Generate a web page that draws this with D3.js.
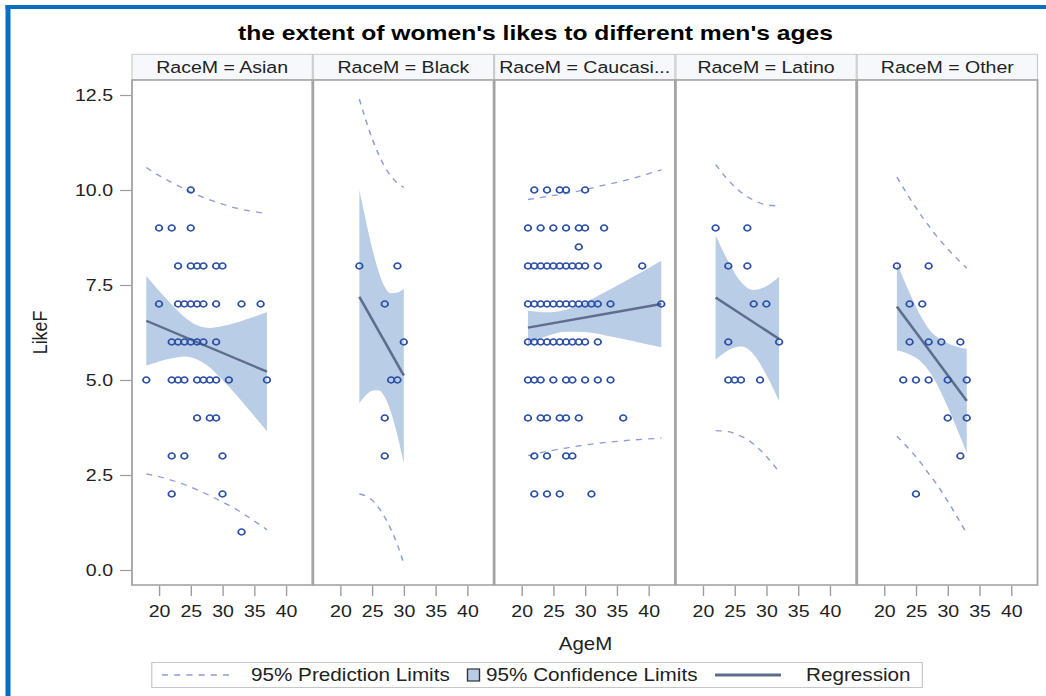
<!DOCTYPE html>
<html>
<head>
<meta charset="utf-8">
<script src="https://cdn.jsdelivr.net/npm/d3@7/dist/d3.min.js"></script>
<style>
  html, body { margin: 0; padding: 0; background: #fff; }
  svg { display: block; font-family: "Liberation Sans", Arial, Helvetica, sans-serif; }
</style>
</head>
<body>
<svg id="chart" width="1046" height="696"></svg>
<script>
// ---------- data ----------
const titleText = "the extent of women's likes to different men's ages";
const raceLabels = ["RaceM = Asian", "RaceM = Black", "RaceM = Caucasi...", "RaceM = Latino", "RaceM = Other"];
const ageTicks = [20, 25, 30, 35, 40];
const likeTicks = [0, 2.5, 5, 7.5, 10, 12.5];
const legendLabels = ["95% Prediction Limits", "95% Confidence Limits", "Regression"];

// observations: [AgeM, LikeF]
const asianPoints = [
  [25,10],
  [20,9],[22,9],[25,9],
  [23,8],[25,8],[26,8],[27,8],[29,8],[30,8],
  [20,7],[23,7],[24,7],[25,7],[26,7],[27,7],[29,7],[33,7],[36,7],
  [22,6],[23,6],[24,6],[25,6],[26,6],[27,6],[29,6],
  [18,5],[22,5],[23,5],[24,5],[26,5],[27,5],[28,5],[29,5],[31,5],[37,5],
  [26,4],[28,4],[29,4],
  [22,3],[24,3],[30,3],
  [22,2],[30,2],
  [33,1]
];
const blackPoints = [
  [23,8],[29,8],[27,7],[30,6],[28,5],[29,5],[27,4],[27,3]
];
const caucasianPoints = [
  [22,10],[24,10],[26,10],[27,10],[30,10],
  [21,9],[23,9],[25,9],[27,9],[29,9],[30,9],[33,9],
  [29,8.5],
  [21,8],[22,8],[23,8],[24,8],[25,8],[26,8],[27,8],[28,8],[29,8],[30,8],[32,8],[39,8],
  [21,7],[22,7],[23,7],[24,7],[25,7],[26,7],[27,7],[28,7],[29,7],[30,7],[31,7],[32,7],[34,7],[42,7],
  [21,6],[22,6],[23,6],[24,6],[25,6],[26,6],[27,6],[28,6],[29,6],[30,6],[32,6],
  [21,5],[22,5],[23,5],[25,5],[27,5],[28,5],[30,5],[32,5],[34,5],
  [21,4],[23,4],[24,4],[26,4],[27,4],[29,4],[36,4],
  [22,3],[24,3],[27,3],[28,3],
  [22,2],[24,2],[26,2],[31,2]
];
const latinoPoints = [
  [22,9],[27,9],[24,8],[27,8],[28,7],[30,7],[24,6],[32,6],[24,5],[25,5],[26,5],[29,5]
];
const otherPoints = [
  [22,8],[27,8],[24,7],[26,7],
  [24,6],[27,6],[29,6],[32,6],
  [23,5],[25,5],[27,5],[30,5],[33,5],
  [30,4],[33,4],[32,3],[25,2]
];

// fitted line end points
const asianFitAges = [18, 37],     asianFitLike = [6.56, 5.22];
const blackFitAges = [23, 30],     blackFitLike = [7.19, 5.12];
const caucasianFitAges = [21, 42], caucasianFitLike = [6.38, 7.0];
const latinoFitAges = [22, 32],    latinoFitLike = [7.17, 6.08];
const otherFitAges = [22, 33],     otherFitLike = [6.93, 4.45];

// confidence (clm) and prediction (plm) limits at the listed ages
const asianBandAges = [18, 20, 22, 24, 26, 28, 30, 32, 34, 37];
const asianClmLow  = [5.38, 5.49, 5.57, 5.62, 5.54, 5.33, 5.00, 4.64, 4.25, 3.65];
const asianClmHigh = [7.74, 7.35, 6.99, 6.66, 6.44, 6.37, 6.42, 6.50, 6.61, 6.79];
const asianPlmLow  = [2.53, 2.46, 2.36, 2.25, 2.11, 1.96, 1.79, 1.61, 1.40, 1.06];
const asianPlmHigh = [10.59, 10.38, 10.20, 10.03, 9.87, 9.74, 9.63, 9.53, 9.46, 9.38];

const blackBandAges = [23, 24, 25, 26, 27, 28, 29, 30];
const blackClmLow  = [4.39, 4.59, 4.72, 4.73, 4.55, 4.14, 3.54, 2.81];
const blackClmHigh = [10.0, 9.21, 8.48, 7.87, 7.45, 7.28, 7.30, 7.40];
const blackPlmLow  = [2.0, 1.95, 1.84, 1.65, 1.39, 1.06, 0.66, 0.17];
const blackPlmHigh = [12.39, 11.85, 11.36, 10.95, 10.61, 10.36, 10.18, 10.07];

const caucasianBandAges = [21, 24, 27, 30, 33, 36, 39, 42];
const caucasianClmLow  = [5.94, 6.16, 6.27, 6.26, 6.18, 6.08, 5.97, 5.86];
const caucasianClmHigh = [6.82, 6.78, 6.85, 7.04, 7.30, 7.57, 7.85, 8.14];
const caucasianPlmLow  = [3.01, 3.12, 3.21, 3.29, 3.35, 3.40, 3.44, 3.47];
const caucasianPlmHigh = [9.75, 9.83, 9.91, 10.01, 10.13, 10.24, 10.38, 10.53];

const latinoBandAges = [22, 24, 26, 27, 28, 30, 32];
const latinoClmLow  = [5.53, 5.78, 5.88, 5.83, 5.67, 5.13, 4.44];
const latinoClmHigh = [8.81, 8.12, 7.58, 7.43, 7.37, 7.47, 7.72];
const latinoPlmLow  = [3.67, 3.64, 3.52, 3.44, 3.31, 2.99, 2.58];
const latinoPlmHigh = [10.67, 10.26, 9.94, 9.82, 9.73, 9.61, 9.58];

const otherBandAges = [22, 24, 26, 27, 28, 30, 33];
const otherClmLow  = [5.78, 5.67, 5.45, 5.25, 4.99, 4.29, 3.08];
const otherClmHigh = [8.08, 7.29, 6.61, 6.35, 6.17, 5.97, 5.82];
const otherPlmLow  = [3.52, 3.17, 2.77, 2.54, 2.32, 1.81, 0.96];
const otherPlmHigh = [10.34, 9.79, 9.29, 9.06, 8.84, 8.45, 7.94];

// ---------- assemble per-panel tables ----------
function band(ages, clmLow, clmHigh, plmLow, plmHigh) {
  return ages.map((a, i) => ({ age: a, clo: clmLow[i], chi: clmHigh[i], plo: plmLow[i], phi: plmHigh[i] }));
}
function fit(ages, like) { return ages.map((a, i) => ({ age: a, like: like[i] })); }

const panels = [
  { label: raceLabels[0], points: asianPoints, fit: fit(asianFitAges, asianFitLike),
    band: band(asianBandAges, asianClmLow, asianClmHigh, asianPlmLow, asianPlmHigh) },
  { label: raceLabels[1], points: blackPoints, fit: fit(blackFitAges, blackFitLike),
    band: band(blackBandAges, blackClmLow, blackClmHigh, blackPlmLow, blackPlmHigh) },
  { label: raceLabels[2], points: caucasianPoints, fit: fit(caucasianFitAges, caucasianFitLike),
    band: band(caucasianBandAges, caucasianClmLow, caucasianClmHigh, caucasianPlmLow, caucasianPlmHigh) },
  { label: raceLabels[3], points: latinoPoints, fit: fit(latinoFitAges, latinoFitLike),
    band: band(latinoBandAges, latinoClmLow, latinoClmHigh, latinoPlmLow, latinoPlmHigh) },
  { label: raceLabels[4], points: otherPoints, fit: fit(otherFitAges, otherFitLike),
    band: band(otherBandAges, otherClmLow, otherClmHigh, otherPlmLow, otherPlmHigh) }
];

// ---------- styles ----------
const COL = {
  frame: "#0b6fc1",
  marker: "#2a4ea5",
  clm: "#b9cde6",
  plm: "#8f9bd8",
  fit: "#5f6d8c",
  border: "#a4a4a4",
  headerFill: "#f6f8fc",
  headerStroke: "#cacaca",
  tick: "#9c9c9c",
  text: "#222"
};

// the drawing is laid out in page pixels, then widened horizontally
const SX = 1.15;
const u = v => v / SX;

const svg = d3.select("#chart");

// blue page frame
svg.append("rect").attr("x", 5.5).attr("y", 5).attr("width", 5).attr("height", 691).attr("fill", COL.frame);
svg.append("rect").attr("x", 5.5).attr("y", 5).attr("width", 1040.5).attr("height", 4).attr("fill", COL.frame);

const g = svg.append("g").attr("transform", `scale(${SX},1)`);

// title
g.append("text")
  .attr("x", u(535.5)).attr("y", 40.5)
  .attr("text-anchor", "middle")
  .attr("font-size", 20).attr("font-weight", "bold").attr("fill", "#000")
  .attr("textLength", u(595)).attr("lengthAdjust", "spacingAndGlyphs")
  .text(titleText);

// layout
const plotLeft = 132, pitch = 181.3, panelW = 180.3;
const plotTop = 80, plotBottom = 585;
const headerTop = 54.3;

const y = d3.scaleLinear().domain([0, 12.5]).range([570, 95]);

const defs = svg.append("defs");

panels.forEach((p, i) => {
  const L = plotLeft + i * pitch;
  const x = d3.scaleLinear().domain([20, 40]).range([u(L + 27), u(L + 154)]);

  const pg = g.append("g");

  // strip header
  pg.append("rect")
    .attr("x", u(L)).attr("y", headerTop)
    .attr("width", u(panelW)).attr("height", plotTop - headerTop)
    .attr("fill", COL.headerFill).attr("stroke", COL.headerStroke).attr("stroke-width", 1);
  pg.append("text")
    .attr("x", u(L + panelW / 2)).attr("y", 73.2)
    .attr("text-anchor", "middle").attr("font-size", 17).attr("fill", COL.text)
    .text(p.label);

  // plot background
  pg.append("rect")
    .attr("x", u(L)).attr("y", plotTop)
    .attr("width", u(panelW)).attr("height", plotBottom - plotTop)
    .attr("fill", "#fff");

  const clipId = "clip" + i;
  defs.append("clipPath").attr("id", clipId)
    .append("rect")
    .attr("x", u(L) * SX).attr("y", plotTop)
    .attr("width", u(panelW) * SX).attr("height", plotBottom - plotTop)
    .attr("transform", `scale(${1 / SX},1)`);

  const content = pg.append("g").attr("clip-path", `url(#${clipId})`);

  // confidence band
  content.append("path")
    .datum(p.band)
    .attr("fill", COL.clm)
    .attr("d", d3.area()
      .x(d => x(d.age)).y0(d => y(d.clo)).y1(d => y(d.chi))
      .curve(d3.curveMonotoneX));

  // prediction limits
  ["plo", "phi"].forEach(k => {
    content.append("path")
      .datum(p.band)
      .attr("fill", "none").attr("stroke", COL.plm)
      .attr("stroke-width", 1.3).attr("stroke-dasharray", "5.3,5.3")
      .attr("d", d3.line().x(d => x(d.age)).y(d => y(d[k])).curve(d3.curveMonotoneX));
  });

  // regression line
  content.append("path")
    .datum(p.fit)
    .attr("fill", "none").attr("stroke", COL.fit).attr("stroke-width", 2.3)
    .attr("d", d3.line().x(d => x(d.age)).y(d => y(d.like)));

  // observations
  content.selectAll("circle.obs")
    .data(p.points)
    .join("circle")
    .attr("class", "obs")
    .attr("cx", d => x(d[0])).attr("cy", d => y(d[1]))
    .attr("r", 2.9)
    .attr("fill", "none").attr("stroke", COL.marker).attr("stroke-width", 1.5);

  // panel border
  pg.append("rect")
    .attr("x", u(L)).attr("y", plotTop)
    .attr("width", u(panelW)).attr("height", plotBottom - plotTop)
    .attr("fill", "none").attr("stroke", COL.border).attr("stroke-width", 1.6);

  // x axis
  const xa = pg.append("g")
    .attr("transform", `translate(0,${plotBottom + 1})`)
    .call(d3.axisBottom(x).tickValues(ageTicks).tickSize(10).tickPadding(9));
  xa.select(".domain").remove();
  xa.selectAll(".tick line").attr("stroke", COL.tick).attr("stroke-width", 1.2);
  xa.selectAll(".tick text").attr("font-size", 17).attr("fill", COL.text)
    .attr("font-family", "Liberation Sans, Arial, sans-serif");
});

// y axis
const ya = g.append("g")
  .attr("transform", `translate(${u(131)},0)`)
  .call(d3.axisLeft(y).tickValues(likeTicks).tickFormat(d3.format(".1f"))
    .tickSize(u(11)).tickPadding(u(7)));
ya.select(".domain").remove();
ya.selectAll(".tick line").attr("stroke", COL.tick).attr("stroke-width", 1.2);
ya.selectAll(".tick text").attr("font-size", 17).attr("fill", COL.text)
  .attr("font-family", "Liberation Sans, Arial, sans-serif");

// axis titles
g.append("text")
  .attr("transform", `translate(${u(47)},332.5) rotate(-90)`)
  .attr("text-anchor", "middle").attr("font-size", 17.8).attr("fill", COL.text)
  .text("LikeF");
g.append("text")
  .attr("x", u(585.5)).attr("y", 650)
  .attr("text-anchor", "middle").attr("font-size", 17.8).attr("fill", COL.text)
  .text("AgeM");

// legend
const lg = g.append("g");
lg.append("rect")
  .attr("x", u(151.8)).attr("y", 662.5).attr("width", u(770.5)).attr("height", 25)
  .attr("fill", "#fff").attr("stroke", "#c6c6c6").attr("stroke-width", 1);
lg.append("line")
  .attr("x1", u(162)).attr("x2", u(235)).attr("y1", 675).attr("y2", 675)
  .attr("stroke", COL.plm).attr("stroke-width", 1.3).attr("stroke-dasharray", "5.3,5.3");
lg.append("text").attr("x", u(251)).attr("y", 681.5)
  .attr("font-size", 18).attr("fill", COL.text).text(legendLabels[0]);
lg.append("rect")
  .attr("x", u(467.5)).attr("y", 669).attr("width", u(12)).attr("height", 12)
  .attr("fill", COL.clm).attr("stroke", "#333").attr("stroke-width", 1.2);
lg.append("text").attr("x", u(486)).attr("y", 681.5)
  .attr("font-size", 18).attr("fill", COL.text).text(legendLabels[1]);
lg.append("line")
  .attr("x1", u(715)).attr("x2", u(781)).attr("y1", 675).attr("y2", 675)
  .attr("stroke", COL.fit).attr("stroke-width", 3);
lg.append("text").attr("x", u(806)).attr("y", 681.5)
  .attr("font-size", 18).attr("fill", COL.text).text(legendLabels[2]);
</script>
</body>
</html>
